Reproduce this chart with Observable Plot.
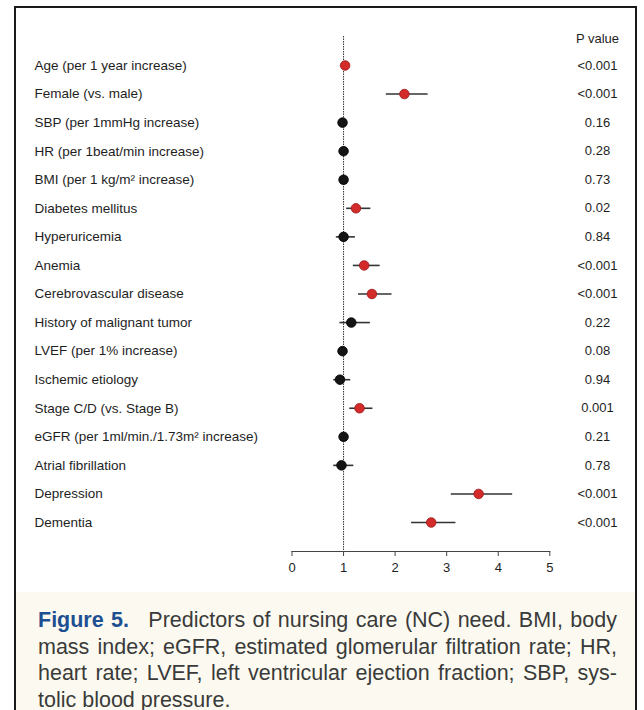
<!DOCTYPE html>
<html>
<head>
<meta charset="utf-8">
<script src="https://cdn.jsdelivr.net/npm/d3@7"></script>
<script src="https://cdn.jsdelivr.net/npm/@observablehq/plot@0.6"></script>
<style>
  html, body { margin: 0; padding: 0; background: #fff; overflow: hidden; width: 644px; height: 710px; }
  #frame {
    position: absolute; left: 14px; top: 6px; width: 619px; height: 800px;
    border: 2px solid #1a1a1a; background: #fff;
  }
  #chart svg { display: block; }
  #caption {
    background: #fcfaf0; height: 300px; box-sizing: border-box;
    padding: 15px 18px 0 22px;
    font-family: "Liberation Sans", Arial, sans-serif; font-size: 21.5px; line-height: 26.5px; color: #3a3a3a;
  }
  #caption .line { text-align: justify; text-align-last: justify; white-space: nowrap; }
  #caption .line.last { text-align-last: left; }
  #caption b { color: #1d4f91; font-weight: 700; margin-right: 12px; }
</style>
</head>
<body>
<div id="frame">
  <div id="chart"></div>
  <div id="caption"></div>
</div>
<script>
const labels = [
  "Age (per 1 year increase)",
  "Female (vs. male)",
  "SBP (per 1mmHg increase)",
  "HR (per 1beat/min increase)",
  "BMI (per 1 kg/m\u00B2 increase)",
  "Diabetes mellitus",
  "Hyperuricemia",
  "Anemia",
  "Cerebrovascular disease",
  "History of malignant tumor",
  "LVEF (per 1% increase)",
  "Ischemic etiology",
  "Stage C/D (vs. Stage B)",
  "eGFR (per 1ml/min./1.73m\u00B2 increase)",
  "Atrial fibrillation",
  "Depression",
  "Dementia"
];
const oddsRatio = [1.03, 2.18, 0.98, 1.00, 1.00, 1.24, 1.00, 1.40, 1.55, 1.15, 0.98, 0.93, 1.31, 1.00, 0.96, 3.62, 2.70];
const ciLow     = [1.02, 1.82, 0.97, 0.99, 0.99, 1.05, 0.85, 1.18, 1.28, 0.92, 0.97, 0.80, 1.11, 0.99, 0.80, 3.08, 2.31];
const ciHigh    = [1.04, 2.63, 0.99, 1.01, 1.01, 1.52, 1.22, 1.70, 1.93, 1.51, 0.99, 1.13, 1.56, 1.01, 1.19, 4.27, 3.17];
const pValues   = ["<0.001", "<0.001", "0.16", "0.28", "0.73", "0.02", "0.84", "<0.001", "<0.001", "0.22", "0.08", "0.94", "0.001", "0.21", "0.78", "<0.001", "<0.001"];
const xTicks = [0, 1, 2, 3, 4, 5];
const pHeader = "P value";
const captionLines = [
  ["Figure 5.", "Predictors of nursing care (NC) need. BMI, body"],
  [null, "mass index; eGFR, estimated glomerular filtration rate; HR,"],
  [null, "heart rate; LVEF, left ventricular ejection fraction; SBP, sys-"],
  [null, "tolic blood pressure."]
];

const rows = labels.map((label, i) => ({
  i, label, or: oddsRatio[i], lo: ciLow[i], hi: ciHigh[i], p: pValues[i],
  sig: pValues[i].startsWith("<") || parseFloat(pValues[i]) < 0.05
}));

const W = 619, H = 584;
const font = "'Liberation Sans', Arial, sans-serif";

const chart = Plot.plot({
  width: W,
  height: H,
  marginLeft: 275.5,
  marginRight: 85.7,
  marginTop: 28,
  marginBottom: 41,
  style: { fontFamily: font, background: "transparent", overflow: "visible" },
  x: { domain: [0, 5], ticks: xTicks, label: null },
  y: { domain: [0, labels.length - 1], range: [57, 514], axis: null },
  marks: [
    Plot.ruleX([1], { stroke: "#333", strokeWidth: 1, strokeDasharray: "1.5,1" }),
    Plot.frame({ anchor: "bottom", stroke: "#444", strokeWidth: 1 }),
    Plot.axisX({ ticks: xTicks, tickSize: 5, tickPadding: 6, fontSize: 13, stroke: "#444", color: "#1e1e1e", label: null, tickFormat: d => String(d) }),
    Plot.link(rows, { x1: "lo", x2: "hi", y1: "i", y2: "i", stroke: "#333", strokeWidth: 1.6 }),
    Plot.dot(rows, { x: "or", y: "i", r: 4.8, fill: d => d.sig ? "#d32a2a" : "#141414", stroke: d => d.sig ? "#9c1a1a" : "#000", strokeWidth: 0.8 }),
    Plot.text(rows, { y: "i", text: "label", frameAnchor: "left", dx: -257.5, textAnchor: "start", fontSize: 13.5, fill: "#1e1e1e" }),
    Plot.text(rows, { y: "i", text: "p", frameAnchor: "right", dx: 47.7, textAnchor: "middle", fontSize: 13, fill: "#1e1e1e" }),
    Plot.text([pHeader], { y: [-1], text: d => d, frameAnchor: "right", dx: 47.7, dy: 1.5, textAnchor: "middle", fontSize: 13, fill: "#1e1e1e" })
  ]
});
document.getElementById("chart").appendChild(chart);

const cap = document.getElementById("caption");
captionLines.forEach((ln, k) => {
  const div = document.createElement("div");
  div.className = "line" + (k === captionLines.length - 1 ? " last" : "");
  if (ln[0]) {
    const b = document.createElement("b");
    b.textContent = ln[0];
    div.appendChild(b);
    div.appendChild(document.createTextNode(" " + ln[1]));
  } else {
    div.textContent = ln[1];
  }
  cap.appendChild(div);
});
</script>
</body>
</html>
